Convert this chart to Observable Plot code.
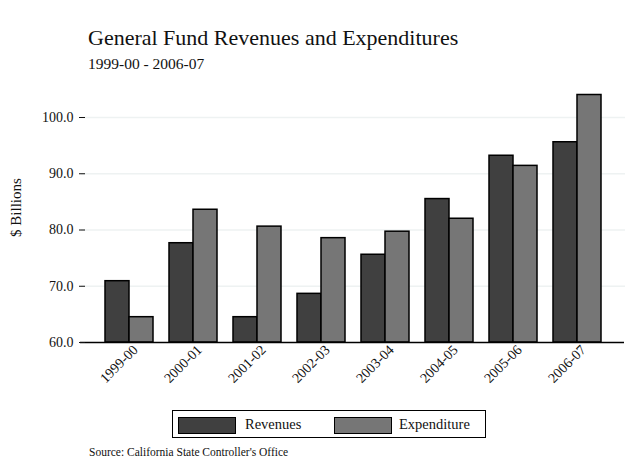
<!DOCTYPE html>
<html>
<head>
<meta charset="utf-8">
<script src="https://cdn.jsdelivr.net/npm/d3@7"></script>
<script src="https://cdn.jsdelivr.net/npm/@observablehq/plot@0.6"></script>
<style>
  body { margin:0; background:#fff; font-family:"Liberation Serif", serif; color:#111; }
  #wrap { position:relative; width:632px; height:475px; }
  #title { position:absolute; left:88px; top:25px; font-size:22px; }
  #subtitle { position:absolute; left:88px; top:55px; font-size:15.5px; }
  #chart { position:absolute; left:0; top:88px; }
  #ylab { position:absolute; left:-22px; top:199px; width:76px; text-align:center; transform:rotate(-90deg); font-size:15px; }
  #legend { position:absolute; left:172px; top:410px; width:314px; height:28px; border:1.5px solid #000; box-sizing:border-box; font-size:14.5px; }
  .sw { position:absolute; top:6px; width:58px; height:17px; border:1.5px solid #000; box-sizing:border-box; }
  .lt { position:absolute; top:5px; }
  #source { position:absolute; left:89px; top:446px; font-size:11.5px; }
</style>
</head>
<body>
<div id="wrap">
  <div id="title">General Fund Revenues and Expenditures</div>
  <div id="subtitle">1999-00 - 2006-07</div>
  <div id="ylab">$ Billions</div>
  <div id="chart"></div>
  <div id="legend"></div>
  <div id="source">Source: California State Controller's Office</div>
</div>
<script>
const years = ["1999-00","2000-01","2001-02","2002-03","2003-04","2004-05","2005-06","2006-07"];
const revenues = [70.9, 77.65, 64.5, 68.65, 75.6, 85.5, 93.2, 95.6];
const expenditure = [64.5, 83.6, 80.6, 78.55, 79.7, 82.0, 91.4, 104.0];
const seriesNames = ["Revenues", "Expenditure"];
const seriesColors = ["#404040", "#767676"];
const yTicks = [60, 70, 80, 90, 100];

const revData = years.map((y, i) => ({year: y, value: revenues[i]}));
const expData = years.map((y, i) => ({year: y, value: expenditure[i]}));

const chart = Plot.plot({
  width: 632,
  height: 310,
  marginLeft: 81,
  marginRight: 7,
  marginTop: 29,
  marginBottom: 56,
  style: {fontFamily: "Liberation Serif, serif", fontSize: "13px", color: "#111"},
  x: {domain: years, paddingInner: 0.25, paddingOuter: 0.375, label: null, round: false},
  y: {domain: [60, 100], label: null},
  marks: [
    Plot.ruleY(yTicks.slice(1), {stroke: "#eef2f2", strokeWidth: 1.5}),
    Plot.barY(revData, {x: "year", y1: 60, y2: "value", fill: seriesColors[0], stroke: "#000", strokeWidth: 1.5, insetRight: 24}),
    Plot.barY(expData, {x: "year", y1: 60, y2: "value", fill: seriesColors[1], stroke: "#000", strokeWidth: 1.5, insetLeft: 24}),
    Plot.ruleY([60], {stroke: "#000", strokeWidth: 1.5, dx: -1}),
    Plot.axisY({ticks: yTicks, tickFormat: d => d.toFixed(1), tickSize: 6, dx: 4, tickPadding: 6, fontSize: 14, label: null}),
    Plot.axisX({tickRotate: -45, tickSize: 0, tickPadding: 5, dx: 6, fontSize: 14, label: null})
  ]
});
document.getElementById("chart").appendChild(chart);

const legend = document.getElementById("legend");
const swX = [5, 161], txX = [72, 226];
seriesNames.forEach((s, i) => {
  const sw = document.createElement("div");
  sw.className = "sw"; sw.style.left = swX[i] + "px"; sw.style.background = seriesColors[i];
  legend.appendChild(sw);
  const t = document.createElement("div");
  t.className = "lt"; t.style.left = txX[i] + "px"; t.textContent = s;
  legend.appendChild(t);
});
</script>
</body>
</html>
